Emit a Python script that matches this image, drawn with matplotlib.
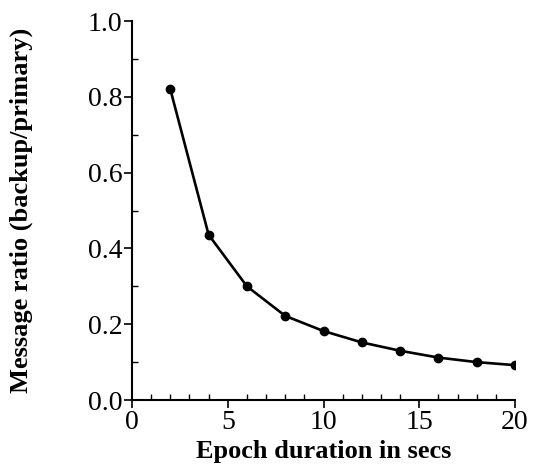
import numpy as np
import matplotlib.pyplot as plt
from matplotlib.ticker import MultipleLocator

epoch = [2, 4, 6, 8, 10, 12, 14, 16, 18, 20]
ratio = [0.82, 0.436, 0.30, 0.222, 0.182, 0.152, 0.130, 0.112, 0.100, 0.092]

plt.rcParams['font.family'] = ['Liberation Serif', 'DejaVu Serif']

fig = plt.figure(figsize=(5.36, 4.72), dpi=100)
ax = fig.add_axes([0.2463, 0.1525, 0.7145, 0.803])

ax.plot(epoch, ratio, color='black', lw=1.9, marker='o', ms=6)

ax.set_xlim(0, 20)
ax.set_ylim(0, 1.0)
ax.xaxis.set_major_locator(MultipleLocator(5))
ax.xaxis.set_minor_locator(MultipleLocator(1))
ax.yaxis.set_major_locator(MultipleLocator(0.2))
ax.yaxis.set_minor_locator(MultipleLocator(0.1))
ax.yaxis.set_major_formatter(plt.FuncFormatter(lambda v, p: '%.1f' % v))

for s in ['top', 'right']:
    ax.spines[s].set_visible(False)
for s in ['left', 'bottom']:
    ax.spines[s].set_linewidth(1.5)

ax.tick_params(which='major', direction='out', length=6, width=1.2, labelsize=20, pad=1)
ax.tick_params(which='minor', direction='in', length=4, width=1.0)

ax.set_xlabel('Epoch duration in secs', fontsize=19, fontweight='bold', labelpad=4)
ax.set_ylabel('Message ratio (backup/primary)', fontsize=19, fontweight='bold')
ax.yaxis.set_label_coords(-0.258, 0.5)

fig.savefig('out.png', dpi=100)
